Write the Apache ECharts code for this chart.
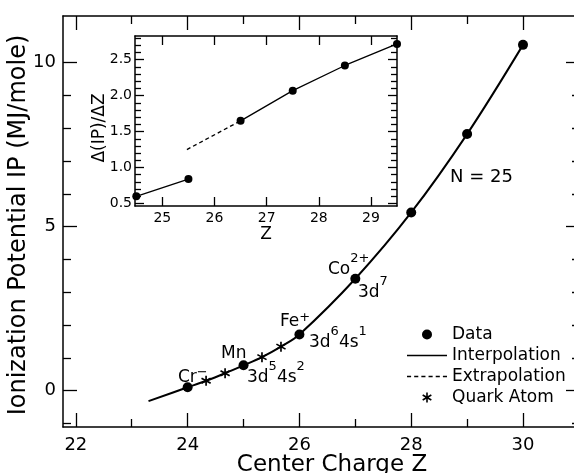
<!DOCTYPE html>
<html>
<head>
<meta charset="utf-8">
<script src="https://cdn.jsdelivr.net/npm/echarts@6/dist/echarts.min.js"></script>
<style>
html, body { margin: 0; padding: 0; background: #fff; }
#chart { width: 574px; height: 473px; }
</style>
</head>
<body>
<div id="chart"></div>
<script>
// main plot: IP vs center charge
var dataZ = [24, 25, 26, 27, 28, 29, 30];
var dataIP = [0.10, 0.77, 1.71, 3.41, 5.43, 7.82, 10.54];
var quarkZ = [24.33, 24.67, 25.33, 25.67];
var quarkIP = [0.30, 0.53, 1.02, 1.34];
var curveZ = [23.3, 24, 24.33, 24.67, 25, 25.33, 25.67, 26, 27, 28, 29, 30];
var curveIP = [-0.32, 0.10, 0.30, 0.53, 0.77, 1.02, 1.34, 1.71, 3.41, 5.43, 7.82, 10.54];
var xMajor = [22, 24, 26, 28, 30];
var xMinor = [23, 25, 27, 29];
var yMajor = [0, 5, 10];
var yMinor = [-1, 1, 2, 3, 4, 6, 7, 8, 9];

// inset: d(IP)/dZ
var insetZ = [24.5, 25.5, 26.5, 27.5, 28.5, 29.5];
var insetD = [0.60, 0.84, 1.65, 2.07, 2.42, 2.72];
var extrapZ = [25.47, 26.5];
var extrapD = [1.25, 1.65];
var insetXTicks = [25, 26, 27, 28, 29];
var insetYMajor = [0.5, 1.0, 1.5, 2.0, 2.5];
var insetYMinor = [0.6, 0.7, 0.8, 0.9, 1.1, 1.2, 1.3, 1.4, 1.6, 1.7, 1.8, 1.9, 2.1, 2.2, 2.3, 2.4, 2.6, 2.7, 2.8];

var FONT = 'DejaVu Sans';
var STAR = 'path://M-0.8,-5 L0.8,-5 L0.8,5 L-0.8,5 Z M-4.73,-1.81 L-3.93,-3.19 L4.73,1.81 L3.93,3.19 Z M-3.93,3.19 L-4.73,1.81 L3.93,-3.19 L4.73,-1.81 Z';
var SOLID_ICON = 'path://M0,0 L40,0 L40,1.6 L0,1.6 Z';
var DASH_ICON = 'path://M0,0 L4,0 L4,1.4 L0,1.4 Z M7,0 L11,0 L11,1.4 L7,1.4 Z M14,0 L18,0 L18,1.4 L14,1.4 Z M21,0 L25,0 L25,1.4 L21,1.4 Z M28,0 L32,0 L32,1.4 L28,1.4 Z M35,0 L39,0 L39,1.4 L35,1.4 Z';

var zip = function (xs, ys) {
    var out = [];
    for (var i = 0; i < xs.length; i++) {
        out.push([xs[i], ys[i]]);
    }
    return out;
};

var tickAxis = function (grid, pos, min, max, ticks, len, showLine, label) {
    return {
        type: 'value',
        gridIndex: grid,
        position: pos,
        min: min,
        max: max,
        nameMoveOverlap: false,
        axisLine: {show: showLine, onZero: false, lineStyle: {color: '#000', width: 1.5}},
        axisTick: {show: true, inside: true, length: len, customValues: ticks,
            lineStyle: {color: '#000', width: 1.3}},
        axisLabel: label || {show: false},
        splitLine: {show: false}
    };
};

var lbl = function (vals, size, margin, fmt) {
    var o = {show: true, customValues: vals, margin: margin, color: '#000',
        fontSize: size, fontFamily: FONT};
    if (fmt) o.formatter = fmt;
    return o;
};

var mainXMin = 21.77, mainXMax = 31.02, mainYMin = -1.11, mainYMax = 11.42;
var insXMin = 24.475, insXMax = 29.5, insYMin = 0.465, insYMax = 2.83;

var xAxes = [
    tickAxis(0, 'bottom', mainXMin, mainXMax, xMajor, 14, true, lbl(xMajor, 18, 9)),
    tickAxis(0, 'bottom', mainXMin, mainXMax, xMinor, 8, false),
    tickAxis(0, 'top', mainXMin, mainXMax, xMajor, 14, true),
    tickAxis(0, 'top', mainXMin, mainXMax, xMinor, 8, false),
    tickAxis(1, 'bottom', insXMin, insXMax, insetXTicks, 9, true, lbl(insetXTicks, 14, 5)),
    tickAxis(1, 'top', insXMin, insXMax, insetXTicks, 9, true)
];
xAxes[0].name = 'Center Charge Z';
xAxes[0].nameLocation = 'middle';
xAxes[0].nameGap = 27;
xAxes[0].nameTextStyle = {color: '#000', fontSize: 23, fontFamily: FONT, padding: [0, 0, 0, 21]};
xAxes[4].name = 'Z';
xAxes[4].nameLocation = 'middle';
xAxes[4].nameGap = 20;
xAxes[4].nameTextStyle = {color: '#000', fontSize: 17, fontFamily: FONT};

var fmt1 = function (v) { return v.toFixed(1); };
var yAxes = [
    tickAxis(0, 'left', mainYMin, mainYMax, yMajor, 14, true, lbl(yMajor, 18, 7)),
    tickAxis(0, 'left', mainYMin, mainYMax, yMinor, 8, false),
    tickAxis(0, 'right', mainYMin, mainYMax, yMajor, 14, true),
    tickAxis(0, 'right', mainYMin, mainYMax, yMinor, 8, false),
    tickAxis(1, 'left', insYMin, insYMax, insetYMajor, 9, true, lbl(insetYMajor, 14, 3, fmt1)),
    tickAxis(1, 'left', insYMin, insYMax, insetYMinor, 6, false),
    tickAxis(1, 'right', insYMin, insYMax, insetYMajor, 9, true),
    tickAxis(1, 'right', insYMin, insYMax, insetYMinor, 6, false)
];
yAxes[0].name = 'Ionization Potential IP (MJ/mole)';
yAxes[0].nameLocation = 'middle';
yAxes[0].nameGap = 32;
yAxes[0].nameTextStyle = {color: '#000', fontSize: 24, fontFamily: FONT, padding: [0, 7, 0, 0]};
yAxes[4].name = '\u0394(IP)/\u0394Z';
yAxes[4].nameLocation = 'middle';
yAxes[4].nameGap = 27;
yAxes[4].nameTextStyle = {color: '#000', fontSize: 17, fontFamily: FONT, padding: [0, 14, 0, 0]};

// superscripts through rich text
var rich = {
    n: {fontSize: 17, fontFamily: FONT, fill: '#000', lineHeight: 26, verticalAlign: 'bottom'},
    s: {fontSize: 13, fontFamily: FONT, fill: '#000', verticalAlign: 'top'},
    m: {fontSize: 13, fontFamily: FONT, fill: '#000', verticalAlign: 'middle'}
};
var supText = function (x, y, str) {
    return {type: 'text', x: x, y: y - 17.5, z: 10,
        style: {text: str, rich: rich, align: 'left', verticalAlign: 'top',
            fontSize: 17, fontFamily: FONT, fill: '#000'}};
};
var plainText = function (x, y, str, size) {
    return {type: 'text', x: x, y: y, z: 10,
        style: {text: str, align: 'left', verticalAlign: 'middle',
            fontSize: size, fontFamily: FONT, fill: '#000'}};
};

var chart = echarts.init(document.getElementById('chart'));
var option = {
    backgroundColor: '#fff',
    animation: false,
    grid: [
        {left: 63, top: 16, width: 517, height: 411, outerBoundsMode: 'none', containLabel: false},
        {left: 135, top: 36, width: 262, height: 170, outerBoundsMode: 'none', containLabel: false}
    ],
    xAxis: xAxes,
    yAxis: yAxes,
    legend: {
        orient: 'vertical',
        left: 402,
        top: 321,
        itemWidth: 40,
        itemHeight: 10,
        itemGap: 4,
        selectedMode: false,
        textStyle: {color: '#000', fontSize: 17, fontFamily: FONT},
        data: [
            {name: 'Data', icon: 'circle'},
            {name: 'Interpolation', icon: SOLID_ICON},
            {name: 'Extrapolation', icon: DASH_ICON},
            {name: 'Quark Atom', icon: STAR}
        ]
    },
    graphic: [
        supText(178, 377.5, '{n|Cr}{m|\u2212}'),
        plainText(221, 354, 'Mn', 17),
        supText(247, 378, '{n|3d}{s|5}{n|4s}{s|2}'),
        supText(280, 322, '{n|Fe}{m|+}'),
        supText(309, 343, '{n|3d}{s|6}{n|4s}{s|1}'),
        supText(328, 270, '{n|Co}{s|2+}'),
        supText(358, 293, '{n|3d}{s|7}'),
        plainText(450, 177, 'N = 25', 18)
    ],
    series: [
        {
            name: 'Interpolation',
            type: 'line',
            xAxisIndex: 0, yAxisIndex: 0,
            smooth: 0.35,
            symbol: 'none',
            lineStyle: {color: '#000', width: 2},
            itemStyle: {color: '#000'},
            data: zip(curveZ, curveIP)
        },
        {
            name: 'Data',
            type: 'scatter',
            xAxisIndex: 0, yAxisIndex: 0,
            symbol: 'circle',
            symbolSize: 10,
            itemStyle: {color: '#000', opacity: 1},
            data: zip(dataZ, dataIP)
        },
        {
            name: 'Quark Atom',
            type: 'scatter',
            xAxisIndex: 0, yAxisIndex: 0,
            symbol: STAR,
            symbolSize: 10,
            itemStyle: {color: '#000', opacity: 1},
            data: zip(quarkZ, quarkIP)
        },
        {
            name: 'Interpolation',
            type: 'line',
            xAxisIndex: 4, yAxisIndex: 4,
            symbol: 'none',
            lineStyle: {color: '#000', width: 1.3},
            itemStyle: {color: '#000'},
            data: zip(insetZ.slice(0, 2), insetD.slice(0, 2))
        },
        {
            name: 'Interpolation',
            type: 'line',
            xAxisIndex: 4, yAxisIndex: 4,
            symbol: 'none',
            lineStyle: {color: '#000', width: 1.3},
            itemStyle: {color: '#000'},
            data: zip(insetZ.slice(2), insetD.slice(2))
        },
        {
            name: 'Extrapolation',
            type: 'line',
            xAxisIndex: 4, yAxisIndex: 4,
            symbol: 'none',
            lineStyle: {color: '#000', width: 1.3, type: [4, 3]},
            itemStyle: {color: '#000'},
            data: zip(extrapZ, extrapD)
        },
        {
            name: 'Data',
            type: 'scatter',
            xAxisIndex: 4, yAxisIndex: 4,
            symbol: 'circle',
            symbolSize: 8,
            itemStyle: {color: '#000', opacity: 1},
            data: zip(insetZ, insetD)
        }
    ]
};
chart.setOption(option);
</script>
</body>
</html>
